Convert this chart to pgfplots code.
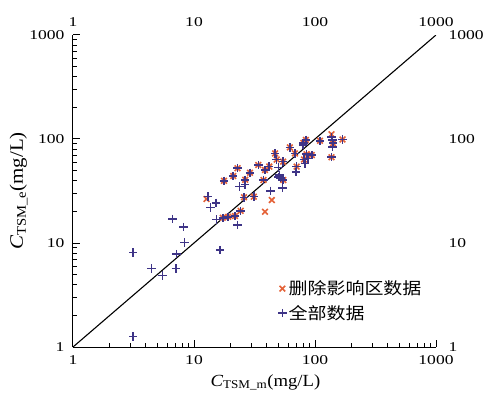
\documentclass[border=0pt]{standalone}
\usepackage{fontspec}
\usepackage{pgfplots}
\pgfplotsset{compat=1.18}
\setmainfont{Liberation Serif}
\newfontfamily\tk{Liberation Serif}[FakeStretch=1.3]
\newfontfamily\lab{Liberation Serif}[FakeStretch=1.1]
\newfontfamily\cjk{Noto Sans CJK SC}[FakeStretch=1.15]
\definecolor{redx}{RGB}{228,98,56}
\definecolor{blueplus}{RGB}{62,52,135}
\begin{document}
\begin{tikzpicture}
\begin{axis}[
  scale only axis, width=363pt, height=312pt,
  xmode=log, ymode=log,
  xmin=1, xmax=1000, ymin=1, ymax=1000,
  xtick={1,10,100,1000}, ytick={1,10,100,1000},
  minor xtick={}, minor ytick={},
  xticklabels={1,10,100,1000}, yticklabels={1,10,100,1000},
  ticklabel style={font=\tk\fontsize{13.5}{13.5}\selectfont},
  axis x line*=bottom, axis y line*=left,
  x axis line style={-, line width=1pt, black},
  y axis line style={-, line width=1pt, black},
  xtick pos=left, ytick pos=left,
  xticklabel pos=left, yticklabel pos=left,
  major tick length=0pt, minor tick length=0pt,
  xticklabel style={yshift=-5pt},
  yticklabel style={xshift=-5pt},
  xlabel={\lab\fontsize{17}{17}\selectfont\textit{C}\textsubscript{TSM\_m}(mg/L)},
  ylabel={\lab\fontsize{19}{19}\selectfont\textit{C}\textsubscript{TSM\_e}(mg/L)},
  xlabel style={at={(rel axis cs:0.53,0)}, anchor=north, yshift=-24pt},
  ylabel style={at={(rel axis cs:0,0.5)}, anchor=south, yshift=42pt},
  legend style={draw=none, fill=none, at={(rel axis cs:0.562,0.222)}, anchor=north west,
    font=\cjk\fontsize{16.5}{16.5}\selectfont, row sep=5pt, inner sep=1pt},
  legend cell align=left,
]
\addplot[black, line width=1.1pt, forget plot] coordinates {(1,1) (1000,1000)};
\addplot[only marks, mark=x, mark size=4pt, redx, mark options={line width=1.6pt}] coordinates {
(12.7,26.5) (17.3,17.5) (19.2,17.9) (21.8,18.2) (24.3,20.4) (25.9,27.5)
(31.2,27.9) (38.6,20.0) (44.0,25.9) (17.7,39.6) (21.1,44.1) (22.9,52.4)
(26.5,40.5) (29.0,47.4) (34.0,56.3) (38.6,50.3) (41.9,54.3) (37.5,40.3)
(46.8,72.6) (48.2,63.5) (54.6,60.6) (54.7,40.3) (62.0,83.0) (68.2,72.6)
(70.5,54.3) (80.1,91.7) (84.1,98.0) (85.1,71.5) (81.0,63.5) (94.0,70.0)
(110,96.2) (137,111) (137,66.7) (169,99) (141,91)
};
\addlegendentry{删除影响区数据}
\addplot[only marks, mark=+, mark size=4.2pt, blueplus, mark options={line width=1.6pt}] coordinates {
(17.3,17.5) (19.2,17.9) (21.8,18.2) (24.3,20.4) (25.9,27.5)
(31.2,27.9) (17.7,39.6) (21.1,44.1) (22.9,52.4)
(26.5,40.5) (29.0,47.4) (34.0,56.3) (38.6,50.3) (41.9,54.3) (37.5,40.3)
(46.8,72.6) (48.2,63.5) (54.6,60.6) (54.7,40.3) (62.0,83.0) (68.2,72.6)
(70.5,54.3) (80.1,91.7) (84.1,98.0) (85.1,71.5) (81.0,63.5) (94.0,70.0)
(110,96.2) (137,66.7) (169,99) (141,91)
(3.15,8.13) (3.15,1.26) (4.47,5.71) (5.51,4.89) (6.62,17.0) (7.06,5.71)
(7.19,7.84) (8.16,14.2) (8.32,10.1) (13.0,28.0) (13.7,22.0) (15.2,24.4)
(15.4,16.9) (16.4,8.57) (22.8,14.9) (23.7,34.8) (26.4,36.6) (43.0,31.8)
(50,53) (51,45) (52,42) (54,34) (49.8,43) (69.8,48.4) (80,87.5)
(82.5,58.2) (88,65) (140,98) (140,84) (137,105)
};
\addlegendentry{全部数据}
\end{axis}
\begin{axis}[
  scale only axis, width=363pt, height=312pt,
  xmode=log, ymode=log,
  xmin=1, xmax=1000, ymin=1, ymax=1000,
  xtick={1,10,100,1000}, ytick={1,10,100,1000},
  minor xtick={}, minor ytick={},
  xticklabels={1,10,100,1000}, yticklabels={1,10,100,1000},
  ticklabel style={font=\tk\fontsize{13.5}{13.5}\selectfont},
  axis x line*=top, axis y line*=right,
  x axis line style={draw=none}, y axis line style={draw=none},
  xtick pos=right, ytick pos=right,
  xticklabel pos=right, yticklabel pos=right,
  major tick length=0pt, minor tick length=0pt,
  xticklabel style={yshift=5pt},
  yticklabel style={xshift=9pt},
]
\addplot[draw=none, forget plot] coordinates {(1,1) (1000,1000)};
\end{axis}
% tick marks along the bottom and left axis lines (121pt per decade in x, 104pt in y)
\foreach \d in {0,1,2}{
  \foreach \m in {2,3,4,5,6,7,8,9}{
    \pgfmathsetmacro{\xx}{121*(\d+log10(\m))}
    \pgfmathsetmacro{\yy}{104*(\d+log10(\m))}
    \draw[black, line width=1pt] (\xx pt,0pt) -- (\xx pt,4pt);
    \draw[black, line width=1pt] (0pt,\yy pt) -- (4pt,\yy pt);
  }
}
\foreach \d in {1,2,3}{
  \pgfmathsetmacro{\xm}{121*\d}
  \pgfmathsetmacro{\ym}{104*\d}
  \draw[black, line width=1pt] (\xm pt,0pt) -- (\xm pt,7pt);
  \draw[black, line width=1pt] (0pt,\ym pt) -- (7pt,\ym pt);
}
\path (-73pt,-58pt) rectangle (415pt,347pt);
\end{tikzpicture}
\end{document}
